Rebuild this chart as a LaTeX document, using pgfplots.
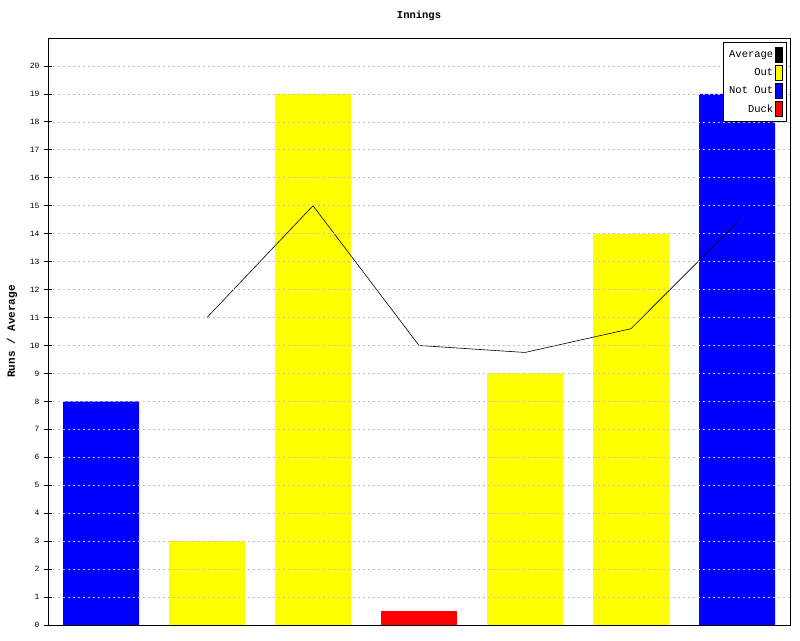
\documentclass[border=0pt]{standalone}
\usepackage{pgfplots}
\pgfplotsset{compat=1.18}
\usepackage{fontspec}
\setmainfont{Liberation Mono}
\definecolor{pyellow}{RGB}{255,255,0}
\definecolor{pblue}{RGB}{0,0,255}
\definecolor{pred}{RGB}{255,0,0}
\begin{document}
\begin{tikzpicture}[x=1pt,y=1pt]
\useasboundingbox (0,0) rectangle (800,640);
\begin{axis}[
  at={(48pt,15pt)}, anchor=south west,
  scale only axis, width=742pt, height=587pt,
  xmin=-0.5, xmax=6.5, ymin=0, ymax=21,
  xtick=\empty,
  ytick={0,1,...,20},
  tick align=center, major tick length=8pt,
  ytick pos=left,
  tick style={black, line width=0.8pt},
  axis line style={black, line width=0.8pt},
  ymajorgrids,
  grid style={dash pattern=on 2pt off 3pt, color=black!25, line width=0.7pt},
  axis on top,
  yticklabel style={font=\fontsize{8}{9}\selectfont, xshift=-1pt},
  /pgf/number format/assume math mode=true,
  title={\textbf{Innings}},
  every axis title shift=0pt,
  title style={font=\fontsize{10.5}{12}\selectfont, at={(0.5,1)}, anchor=center, yshift=22pt},
  ylabel={\textbf{Runs / Average}},
  ylabel style={font=\fontsize{11}{12}\selectfont, at={(axis description cs:0,0.5)}, anchor=center, yshift=36pt},
  legend style={at={(0.9962,0.993)}, anchor=north east, draw=black, line width=0.8pt,
    font=\fontsize{10.5}{11}\selectfont, cells={anchor=east},
    row sep=2.6pt, inner xsep=4pt, inner ysep=4.5pt},
  legend plot pos=right,
  legend cell align=right,
  legend image code/.code={\draw[#1, line width=0.5pt] (-1pt,-7.5pt) rectangle (6pt,7.5pt);},
]
\addlegendimage{fill=black, draw=black}
\addlegendentry{Average}
\addlegendimage{fill=pyellow, draw=black}
\addlegendentry{Out}
\addlegendimage{fill=pblue, draw=black}
\addlegendentry{Not Out}
\addlegendimage{fill=pred, draw=black}
\addlegendentry{Duck}
\addplot[ybar, bar width=76pt, bar shift=0pt, fill=pblue, draw=none, forget plot]
  coordinates {(0,8) (6,19)};
\addplot[ybar, bar width=76pt, bar shift=0pt, fill=pyellow, draw=none, forget plot]
  coordinates {(1,3) (2,19) (4,9) (5,14)};
\addplot[ybar, bar width=76pt, bar shift=0pt, fill=pred, draw=none, forget plot]
  coordinates {(3,0.5)};
\addplot[black, line width=0.6pt, mark=none, forget plot]
  coordinates {(1,11) (2,15) (3,10) (4,9.75) (5,10.6) (6,14.4)};
\end{axis}
\end{tikzpicture}
\end{document}
